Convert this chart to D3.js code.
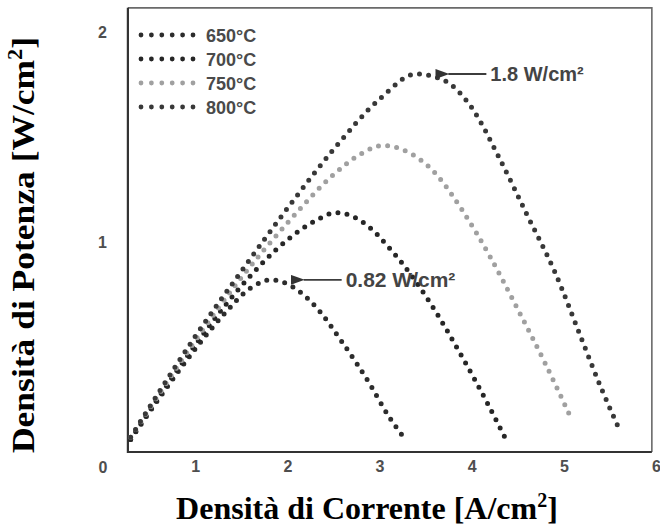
<!DOCTYPE html>
<html>
<head>
<meta charset="utf-8">
<script src="https://cdn.jsdelivr.net/npm/d3@7"></script>
<style>
  body { margin: 0; background: #fff; }
  svg { display: block; }
</style>
</head>
<body>
<svg id="chart" width="660" height="528"></svg>
<script>
// Power density vs current density for a cell at four operating temperatures
const temperatures = ["650°C", "700°C", "750°C", "800°C"];

const current650 = [0.30, 0.60, 1.00, 1.30, 1.60, 1.83, 2.00, 2.27, 2.60, 2.90, 3.10, 3.28];
const power650   = [0.06, 0.25, 0.49, 0.65, 0.78, 0.82, 0.80, 0.71, 0.52, 0.32, 0.17, 0.06];

const current700 = [0.30, 0.60, 1.00, 1.50, 2.00, 2.30, 2.53, 2.80, 3.15, 3.55, 3.90, 4.15, 4.36];
const power700   = [0.06, 0.26, 0.51, 0.79, 1.01, 1.10, 1.14, 1.10, 0.95, 0.71, 0.45, 0.25, 0.07];

const current750 = [0.30, 0.60, 1.00, 1.50, 2.00, 2.50, 2.80, 3.04, 3.30, 3.60, 3.90, 4.20, 4.50, 4.80, 5.09];
const power750   = [0.07, 0.27, 0.53, 0.83, 1.09, 1.32, 1.42, 1.46, 1.43, 1.33, 1.15, 0.93, 0.68, 0.42, 0.15];

const current800 = [0.30, 0.60, 1.00, 1.50, 2.00, 2.50, 3.00, 3.40, 3.70, 4.00, 4.30, 4.60, 4.90, 5.20, 5.40, 5.61];
const power800   = [0.07, 0.28, 0.55, 0.86, 1.16, 1.44, 1.68, 1.80, 1.77, 1.64, 1.40, 1.13, 0.86, 0.53, 0.31, 0.10];

const seriesCurrents = [current650, current700, current750, current800];
const seriesPowers   = [power650, power700, power750, power800];

// Peak power annotations
const peakCurrents = [1.83, 3.40];
const peakPowers   = [0.82, 1.80];
const peakLabels   = ["0.82 W/cm²", "1.8 W/cm²"];

const xTicks = [1, 2, 3, 4, 5, 6];
const yTicks = [1, 2];

const seriesColors = ["#2c2c2c", "#262626", "#a0a0a0", "#383838"];

const svg = d3.select("#chart");

const x = d3.scaleLinear().domain([0, 6]).range([103, 656]);
const y = d3.scaleLinear().domain([0, 2]).range([452, 32]);

// plotting frame extents in data units
const frameX = [0.27, 5.955];
const frameY = [0, 2.115];

const defs = svg.append("defs");
defs.append("marker")
  .attr("id", "arrowhead")
  .attr("viewBox", "0 0 14 10")
  .attr("refX", 1).attr("refY", 5)
  .attr("markerWidth", 8).attr("markerHeight", 5.5)
  .attr("markerUnits", "strokeWidth")
  .attr("orient", "auto-start-reverse")
  .append("path")
  .attr("d", "M14,0 L0,5 L14,10 Z")
  .attr("fill", "#333");

// frame
const fx0 = x(frameX[0]), fx1 = x(frameX[1]);
const fy0 = y(frameY[0]), fy1 = y(frameY[1]);
svg.append("path")
  .attr("d", `M${fx0},${fy1} L${fx1},${fy1} L${fx1},${fy0}`)
  .attr("fill", "none").attr("stroke", "#6a6a6a").attr("stroke-width", 1.6);
svg.append("path")
  .attr("d", `M${fx0},${fy1} L${fx0},${fy0} L${fx1},${fy0}`)
  .attr("fill", "none").attr("stroke", "#333").attr("stroke-width", 2.2);

// dotted curves
const line = d3.line()
  .x(d => x(d[0]))
  .y(d => y(d[1]))
  .curve(d3.curveMonotoneX);

seriesCurrents.forEach((cur, i) => {
  const pts = cur.map((c, k) => [c, seriesPowers[i][k]]);
  svg.append("path")
    .attr("d", line(pts))
    .attr("fill", "none")
    .attr("stroke", seriesColors[i])
    .attr("stroke-width", 5)
    .attr("stroke-linecap", "round")
    .attr("stroke-dasharray", "0 9.2");
});

// axes
const tickFont = "'Liberation Sans', Arial, sans-serif";
const xAxis = svg.append("g")
  .attr("transform", `translate(0,${y(0)})`)
  .call(d3.axisBottom(x).tickValues(xTicks).tickSize(0).tickPadding(9).tickFormat(d3.format("d")));
xAxis.select(".domain").remove();

const yAxis = svg.append("g")
  .attr("transform", `translate(${fx0},0)`)
  .call(d3.axisLeft(y).tickValues(yTicks).tickSize(0).tickPadding(21).tickFormat(d3.format("d")));
yAxis.select(".domain").remove();

svg.selectAll(".tick text")
  .attr("font-family", tickFont)
  .attr("font-weight", "bold")
  .attr("font-size", 16)
  .attr("fill", "#4e4e4e");

// shared origin label
svg.append("text")
  .attr("x", x(0)).attr("y", y(0) + 21)
  .attr("text-anchor", "middle")
  .attr("font-family", tickFont).attr("font-weight", "bold")
  .attr("font-size", 16).attr("fill", "#4e4e4e")
  .text("0");

// legend
const legend = svg.append("g");
temperatures.forEach((t, i) => {
  const ly = 35 + i * 24;
  legend.append("line")
    .attr("x1", 141).attr("x2", 194)
    .attr("y1", ly).attr("y2", ly)
    .attr("stroke", seriesColors[i])
    .attr("stroke-width", 4.8)
    .attr("stroke-linecap", "round")
    .attr("stroke-dasharray", "0 10.4");
  legend.append("text")
    .attr("x", 206).attr("y", ly + 6.5)
    .attr("font-family", tickFont).attr("font-weight", "bold")
    .attr("font-size", 18).attr("fill", "#4a4a4a")
    .text(t);
});

// peak annotations
peakCurrents.forEach((c, i) => {
  const tipX = x(c) + 24;
  const py = y(peakPowers[i]);
  const fs = i === 0 ? 21 : 20;
  svg.append("line")
    .attr("x1", tipX + 46).attr("x2", tipX + 8)
    .attr("y1", py).attr("y2", py)
    .attr("stroke", "#3c3c3c").attr("stroke-width", 1.8)
    .attr("marker-end", "url(#arrowhead)");
  svg.append("text")
    .attr("x", tipX + 50).attr("y", py + 7)
    .attr("font-family", tickFont).attr("font-weight", "bold")
    .attr("font-size", fs).attr("fill", "#444")
    .text(peakLabels[i]);
});

// axis titles
const titleFont = "'Liberation Serif', 'Times New Roman', serif";
const xt = svg.append("text")
  .attr("x", 367).attr("y", 519)
  .attr("text-anchor", "middle")
  .attr("font-family", titleFont).attr("font-weight", "bold")
  .attr("font-size", 32).attr("fill", "#000");
xt.append("tspan").text("Densità di Corrente [A/cm");
xt.append("tspan").attr("font-size", 20).attr("dy", -12).text("2");
xt.append("tspan").attr("dy", 12).text("]");

const yt = svg.append("text")
  .attr("transform", "translate(34,245) rotate(-90)")
  .attr("text-anchor", "middle")
  .attr("font-family", titleFont).attr("font-weight", "bold")
  .attr("font-size", 32).attr("fill", "#000")
  .attr("textLength", 416)
  .attr("lengthAdjust", "spacingAndGlyphs");
yt.append("tspan").text("Densità di Potenza [W/cm");
yt.append("tspan").attr("font-size", 20).attr("dy", -12).text("2");
yt.append("tspan").attr("dy", 12).text("]");
</script>
</body>
</html>
